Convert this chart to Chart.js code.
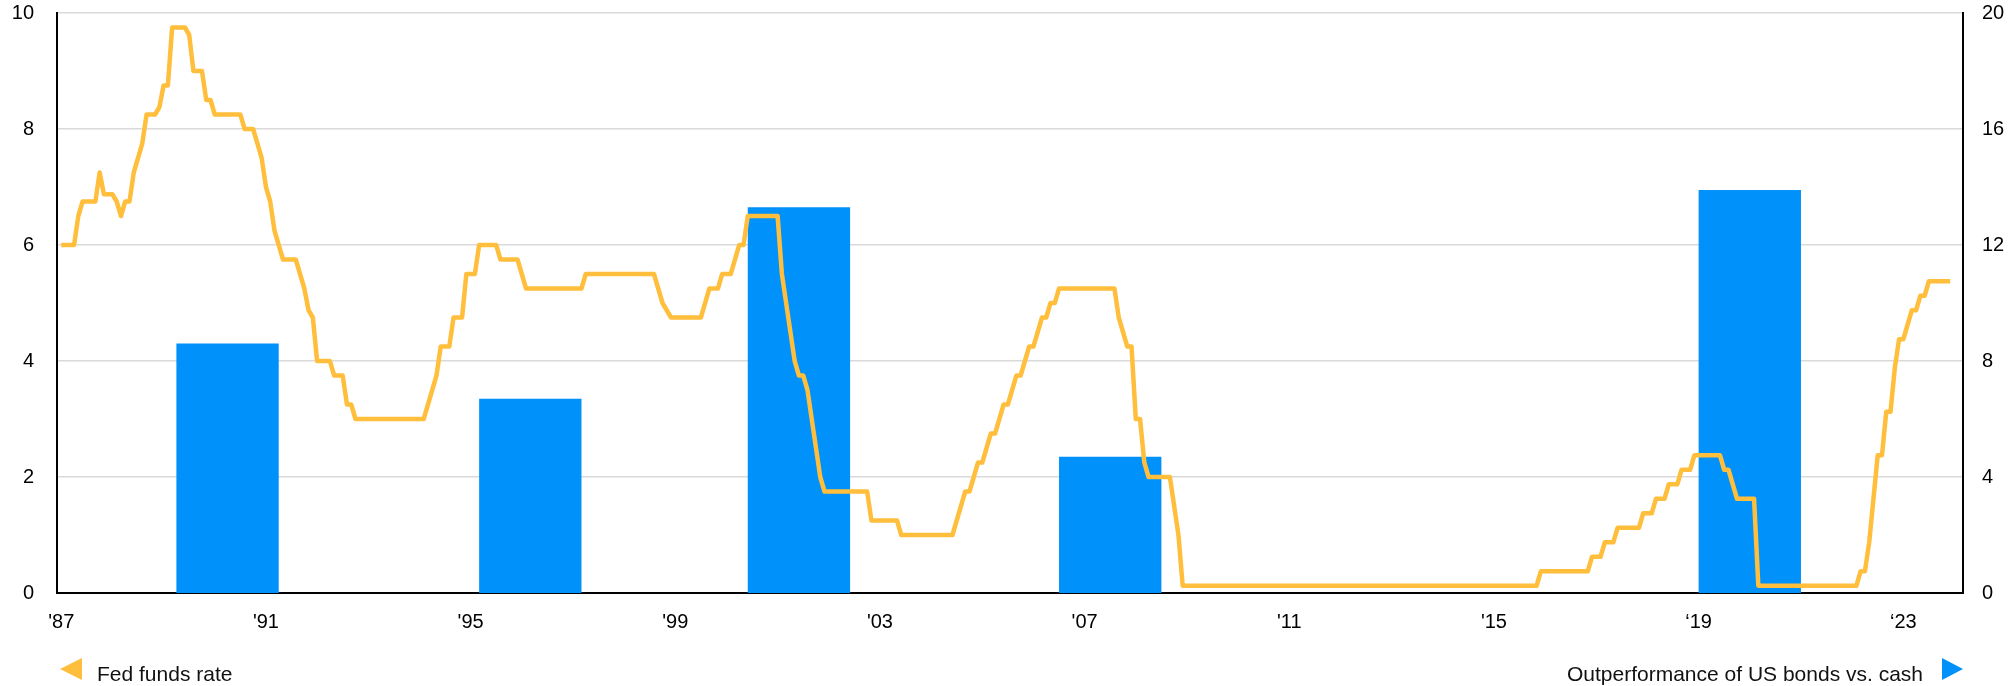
<!DOCTYPE html>
<html>
<head>
<meta charset="utf-8">
<title>Fed funds rate and US bond outperformance</title>
<script src="https://cdn.jsdelivr.net/npm/chart.js@4.4.1/dist/chart.umd.min.js"></script>
<style>
  html, body { margin: 0; padding: 0; background: #fff; }
  #wrap { position: relative; width: 2009px; height: 686px; overflow: hidden;
          font-family: 'Liberation Sans', Arial, Helvetica, sans-serif; color: #111; }
  #chart { position: absolute; left: 0; top: 0; }
  .leg-text { position: absolute; top: 663px; font-size: 21px; line-height: 21px; white-space: nowrap; }
  .tri { position: absolute; top: 658px; width: 0; height: 0;
         border-top: 11.5px solid transparent; border-bottom: 11.5px solid transparent; }
  #triFed { left: 60px; border-right: 22px solid #FFBE3B; }
  #txtFed { left: 97px; }
  #triBond { left: 1942px; border-left: 21px solid #0091FA; }
  #txtBond { right: 86px; text-align: right; }
</style>
</head>
<body>
<div id="wrap">
  <canvas id="chart" width="2009" height="686"></canvas>
  <div class="tri" id="triFed"></div>
  <div class="leg-text" id="txtFed">Fed funds rate</div>
  <div class="leg-text" id="txtBond">Outperformance of US bonds vs. cash</div>
  <div class="tri" id="triBond"></div>
</div>
<script>
// Monthly Fed funds rate (target, midpoint of the range after 2008), Jan 1987 - Dec 2023
const fedFundsRate = [
  /* 1987 */ 6, 6, 6, 6, 6.5, 6.75, 6.75, 6.75, 6.75, 7.25, 6.875, 6.875,
  /* 1988 */ 6.875, 6.75, 6.5, 6.75, 6.75, 7.25, 7.5, 7.75, 8.25, 8.25, 8.25, 8.375,
  /* 1989 */ 8.75, 8.75, 9.75, 9.75, 9.75, 9.75, 9.625, 9, 9, 9, 8.5, 8.5,
  /* 1990 */ 8.25, 8.25, 8.25, 8.25, 8.25, 8.25, 8.25, 8, 8, 8, 7.75, 7.5,
  /* 1991 */ 7, 6.75, 6.25, 6, 5.75, 5.75, 5.75, 5.75, 5.5, 5.25, 4.875, 4.75,
  /* 1992 */ 4, 4, 4, 4, 3.75, 3.75, 3.75, 3.25, 3.25, 3, 3, 3,
  /* 1993 */ 3, 3, 3, 3, 3, 3, 3, 3, 3, 3, 3, 3,
  /* 1994 */ 3, 3, 3.25, 3.5, 3.75, 4.25, 4.25, 4.25, 4.75, 4.75, 4.75, 5.5,
  /* 1995 */ 5.5, 5.5, 6, 6, 6, 6, 6, 5.75, 5.75, 5.75, 5.75, 5.75,
  /* 1996 */ 5.5, 5.25, 5.25, 5.25, 5.25, 5.25, 5.25, 5.25, 5.25, 5.25, 5.25, 5.25,
  /* 1997 */ 5.25, 5.25, 5.25, 5.5, 5.5, 5.5, 5.5, 5.5, 5.5, 5.5, 5.5, 5.5,
  /* 1998 */ 5.5, 5.5, 5.5, 5.5, 5.5, 5.5, 5.5, 5.5, 5.25, 5, 4.875, 4.75,
  /* 1999 */ 4.75, 4.75, 4.75, 4.75, 4.75, 4.75, 4.75, 5, 5.25, 5.25, 5.25, 5.5,
  /* 2000 */ 5.5, 5.5, 5.75, 6, 6, 6.5, 6.5, 6.5, 6.5, 6.5, 6.5, 6.5,
  /* 2001 */ 6.5, 5.5, 5, 4.5, 4, 3.75, 3.75, 3.5, 3, 2.5, 2, 1.75,
  /* 2002 */ 1.75, 1.75, 1.75, 1.75, 1.75, 1.75, 1.75, 1.75, 1.75, 1.75, 1.25, 1.25,
  /* 2003 */ 1.25, 1.25, 1.25, 1.25, 1.25, 1, 1, 1, 1, 1, 1, 1,
  /* 2004 */ 1, 1, 1, 1, 1, 1, 1.25, 1.5, 1.75, 1.75, 2, 2.25,
  /* 2005 */ 2.25, 2.5, 2.75, 2.75, 3, 3.25, 3.25, 3.5, 3.75, 3.75, 4, 4.25,
  /* 2006 */ 4.25, 4.5, 4.75, 4.75, 5, 5, 5.25, 5.25, 5.25, 5.25, 5.25, 5.25,
  /* 2007 */ 5.25, 5.25, 5.25, 5.25, 5.25, 5.25, 5.25, 5.25, 4.75, 4.5, 4.25, 4.25,
  /* 2008 */ 3, 3, 2.25, 2, 2, 2, 2, 2, 2, 1.5, 1, 0.125,
  /* 2009 */ 0.125, 0.125, 0.125, 0.125, 0.125, 0.125, 0.125, 0.125, 0.125, 0.125, 0.125, 0.125,
  /* 2010 */ 0.125, 0.125, 0.125, 0.125, 0.125, 0.125, 0.125, 0.125, 0.125, 0.125, 0.125, 0.125,
  /* 2011 */ 0.125, 0.125, 0.125, 0.125, 0.125, 0.125, 0.125, 0.125, 0.125, 0.125, 0.125, 0.125,
  /* 2012 */ 0.125, 0.125, 0.125, 0.125, 0.125, 0.125, 0.125, 0.125, 0.125, 0.125, 0.125, 0.125,
  /* 2013 */ 0.125, 0.125, 0.125, 0.125, 0.125, 0.125, 0.125, 0.125, 0.125, 0.125, 0.125, 0.125,
  /* 2014 */ 0.125, 0.125, 0.125, 0.125, 0.125, 0.125, 0.125, 0.125, 0.125, 0.125, 0.125, 0.125,
  /* 2015 */ 0.125, 0.125, 0.125, 0.125, 0.125, 0.125, 0.125, 0.125, 0.125, 0.125, 0.125, 0.375,
  /* 2016 */ 0.375, 0.375, 0.375, 0.375, 0.375, 0.375, 0.375, 0.375, 0.375, 0.375, 0.375, 0.625,
  /* 2017 */ 0.625, 0.625, 0.875, 0.875, 0.875, 1.125, 1.125, 1.125, 1.125, 1.125, 1.125, 1.375,
  /* 2018 */ 1.375, 1.375, 1.625, 1.625, 1.625, 1.875, 1.875, 1.875, 2.125, 2.125, 2.125, 2.375,
  /* 2019 */ 2.375, 2.375, 2.375, 2.375, 2.375, 2.375, 2.125, 2.125, 1.875, 1.625, 1.625, 1.625,
  /* 2020 */ 1.625, 1.625, 0.125, 0.125, 0.125, 0.125, 0.125, 0.125, 0.125, 0.125, 0.125, 0.125,
  /* 2021 */ 0.125, 0.125, 0.125, 0.125, 0.125, 0.125, 0.125, 0.125, 0.125, 0.125, 0.125, 0.125,
  /* 2022 */ 0.125, 0.125, 0.375, 0.375, 0.875, 1.625, 2.375, 2.375, 3.125, 3.125, 3.875, 4.375,
  /* 2023 */ 4.375, 4.625, 4.875, 4.875, 5.125, 5.125, 5.375, 5.375, 5.375, 5.375, 5.375, 5.375
];
const rateStart = { year: 1987, month: 1 };

// Two-year periods of bond outperformance over cash (%), centred on these months
const bondPeriodCentres = ['1990-04', '1996-03', '2001-06', '2007-07', '2020-01'];
const bondOutperformance = [8.6, 6.7, 13.3, 4.7, 13.9];

// Axis range (monthly categories) and year tick labels
const axisStart = { year: 1986, month: 12 };
const axisEnd = { year: 2024, month: 3 };
const tickMonths = ['1987-01', '1991-01', '1995-01', '1999-01', '2003-01', '2007-01', '2011-01', '2015-01', '2019-01', '2023-01'];
const tickLabels = ["'87", "'91", "'95", "'99", "'03", "'07", "'11", "'15", "\u201819", "\u201823"];

const fedColor = '#FFBE3B';
const bondColor = '#0091FA';
const fontFamily = "'Liberation Sans', Arial, Helvetica, sans-serif";

// Monthly category labels
const months = [];
for (let y = axisStart.year, m = axisStart.month; y < axisEnd.year || (y === axisEnd.year && m <= axisEnd.month); ) {
  months.push(y + '-' + String(m).padStart(2, '0'));
  m++; if (m > 12) { m = 1; y++; }
}

const rateSeries = months.map(key => {
  const [y, m] = key.split('-').map(Number);
  const k = (y - rateStart.year) * 12 + (m - rateStart.month);
  return k >= 0 && k < fedFundsRate.length ? fedFundsRate[k] : null;
});
const bondSeries = months.map(key => {
  const k = bondPeriodCentres.indexOf(key);
  return k >= 0 ? bondOutperformance[k] : null;
});
const tickIndex = new Map(tickMonths.map((k, i) => [months.indexOf(k), tickLabels[i]]));

const tickFont = { family: fontFamily, size: 20 };

// Fixed box sizes so the plot area sits at x 57..1963, y 13..593
const fixBox = size => scale => {
  if (size.width !== undefined) scale.width = size.width;
  if (size.height !== undefined) scale.height = size.height;
  scale.paddingTop = 0; scale.paddingBottom = 0;
  scale.paddingLeft = 0; scale.paddingRight = 0;
};

new Chart(document.getElementById('chart'), {
  type: 'line',
  data: {
    labels: months,
    datasets: [
      {
        type: 'line',
        label: 'Fed funds rate',
        data: rateSeries,
        yAxisID: 'y',
        borderColor: fedColor,
        borderWidth: 4.5,
        borderJoinStyle: 'round',
        pointRadius: 0,
        tension: 0,
        fill: false,
        order: 0
      },
      {
        type: 'bar',
        label: 'Outperformance of US bonds vs. cash',
        data: bondSeries,
        yAxisID: 'y2',
        backgroundColor: bondColor,
        borderWidth: 0,
        categoryPercentage: 1,
        barPercentage: 24,   // each bar covers 24 monthly slots
        grouped: false,
        order: 1
      }
    ]
  },
  options: {
    responsive: false,
    devicePixelRatio: 1,
    animation: false,
    events: [],
    layout: { padding: { top: 13, left: 0, right: 0, bottom: 0 } },
    plugins: { legend: { display: false }, tooltip: { enabled: false } },
    scales: {
      x: {
        type: 'category',
        offset: false,
        grid: { display: false, drawTicks: false, offset: false },
        border: { display: true, color: '#000', width: 2 },
        afterBuildTicks: scale => {
          scale.ticks = scale.ticks.filter(t => tickIndex.has(t.value));
        },
        afterFit: fixBox({ height: 93 }),
        ticks: {
          autoSkip: false, maxRotation: 0, minRotation: 0,
          padding: 17, color: '#000', font: tickFont,
          callback: value => tickIndex.get(value) ?? ''
        }
      },
      y: {
        position: 'left',
        min: 0, max: 10,
        afterFit: fixBox({ width: 57 }),
        grid: { color: '#dadada', lineWidth: 1.5, drawTicks: false },
        border: { display: true, color: '#000', width: 2 },
        ticks: { stepSize: 2, padding: 23, color: '#000', font: tickFont }
      },
      y2: {
        position: 'right',
        min: 0, max: 20,
        afterFit: fixBox({ width: 46 }),
        grid: { display: false, drawTicks: false },
        border: { display: true, color: '#000', width: 2 },
        ticks: { stepSize: 4, padding: 19, color: '#000', font: tickFont }
      }
    }
  }
});
</script>
</body>
</html>
